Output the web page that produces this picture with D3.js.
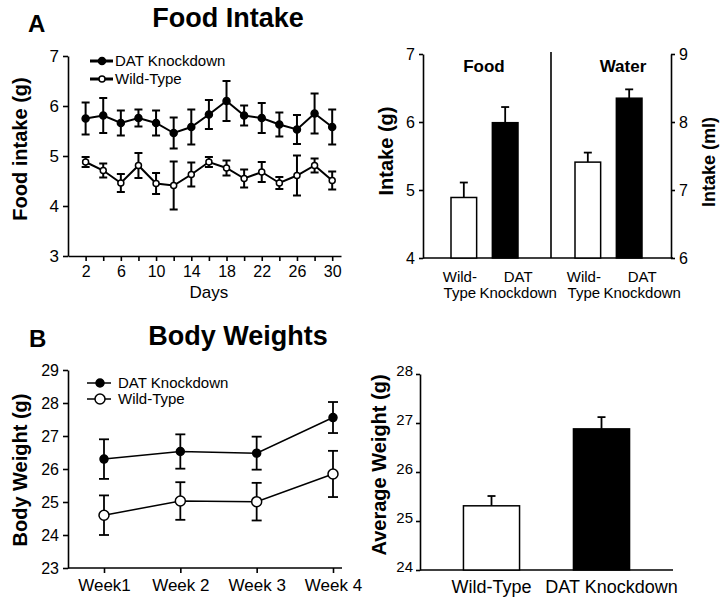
<!DOCTYPE html>
<html><head><meta charset="utf-8">
<script src="https://cdn.jsdelivr.net/npm/d3@7"></script>
<style>
body{margin:0;background:#fff;}
svg{font-family:"Liberation Sans",Arial,sans-serif;}
.axis path,.axis line{stroke:#000;stroke-width:1.6;}
.axis text{fill:#000;}
</style></head>
<body>
<svg id="chart" width="720" height="599"></svg>
<script>
// ---------- DATA ----------
const days = [2,4,6,8,10,12,14,16,18,20,22,24,26,28,30];
const dayTickLabels = [2,6,10,14,18,22,26,30];
const datIntake    = [5.75,5.81,5.66,5.76,5.66,5.46,5.58,5.83,6.10,5.81,5.76,5.63,5.53,5.85,5.58];
const datIntakeErr = [0.32,0.35,0.25,0.17,0.25,0.31,0.35,0.29,0.40,0.20,0.30,0.24,0.29,0.40,0.35];
const wtIntake     = [4.88,4.71,4.46,4.81,4.45,4.41,4.63,4.88,4.76,4.55,4.68,4.46,4.61,4.81,4.51];
const wtIntakeErr  = [0.10,0.14,0.18,0.25,0.21,0.48,0.24,0.10,0.15,0.18,0.20,0.12,0.40,0.14,0.18];
const intakeTicks  = [3,4,5,6,7];

const groups = ["Food","Water"];
const genotypes = ["Wild-Type","DAT Knockdown"];
const genotypeLabelLines = [["Wild-","Type"],["DAT","Knockdown"]];
const foodMeans = [4.89, 5.99];
const foodErr   = [0.22, 0.23];
const waterMeans = [7.41, 8.35];
const waterErr   = [0.14, 0.13];
const foodTicks = [4,5,6,7];
const waterTicks = [6,7,8,9];

const weeks = ["Week1","Week 2","Week 3","Week 4"];
const datWeight    = [26.30,26.53,26.48,27.56];
const datWeightErr = [0.60,0.52,0.50,0.47];
const wtWeight     = [24.60,25.03,25.01,25.85];
const wtWeightErr  = [0.60,0.57,0.57,0.70];
const weightTicks  = [23,24,25,26,27,28,29];

const avgWeight    = [25.31, 26.88];
const avgWeightErr = [0.20, 0.24];
const avgTicks     = [24,25,26,27,28];

// ---------- DRAW ----------
const svg = d3.select("#chart");
const fmt = d3.format("d");

function txt(x,y,s,size,weight,anchor){
  return svg.append("text").attr("x",x).attr("y",y).text(s)
    .attr("font-size",size).attr("font-weight",weight||"normal")
    .attr("text-anchor",anchor||"start").attr("fill","#000");
}
function rotLabel(x,y,s,size){
  return svg.append("text").attr("transform",`translate(${x},${y}) rotate(-90)`)
    .text(s).attr("font-size",size).attr("font-weight","bold")
    .attr("text-anchor","middle").attr("fill","#000");
}
function styleAxis(g,size){
  g.attr("class","axis");
  g.selectAll("text").attr("font-size",size).attr("font-family","Liberation Sans, Arial, sans-serif");
}

// ===== Panel A left: Food intake line =====
{
  const x = d3.scaleLinear().domain([0,31]).range([68,341]);
  const y = d3.scaleLinear().domain([3,7]).range([256,56]);
  txt(28,32,"A",24,"bold");
  txt(228,27,"Food Intake",27,"bold","middle");
  const ya = svg.append("g").attr("transform","translate(68,0)")
    .call(d3.axisLeft(y).tickValues(intakeTicks).tickFormat(fmt).tickSize(5).tickSizeOuter(0).tickPadding(4));
  styleAxis(ya,17);
  const xa = svg.append("g").attr("transform","translate(0,256)")
    .call(d3.axisBottom(x).tickValues(days).tickSize(5).tickSizeOuter(0).tickPadding(5)
      .tickFormat(d=>dayTickLabels.includes(d)?d:""));
  styleAxis(xa,16);
  txt(x(16),298,"Days",17,"normal","middle");
  rotLabel(27,149,"Food intake (g)",20);

  const series = [
    {v:datIntake,e:datIntakeErr,fill:"#000",r:3.5},
    {v:wtIntake,e:wtIntakeErr,fill:"#fff",r:3}
  ];
  series.forEach(s=>{
    const g = svg.append("g");
    days.forEach((d,i)=>{
      const cx=x(d), y1=y(s.v[i]-s.e[i]), y2=y(s.v[i]+s.e[i]);
      g.append("line").attr("x1",cx).attr("x2",cx).attr("y1",y1).attr("y2",y2).attr("stroke","#000").attr("stroke-width",2);
      [y1,y2].forEach(yy=>g.append("line").attr("x1",cx-4).attr("x2",cx+4).attr("y1",yy).attr("y2",yy).attr("stroke","#000").attr("stroke-width",2));
    });
    g.append("path").datum(days.map((d,i)=>[d,s.v[i]]))
      .attr("d",d3.line().x(d=>x(d[0])).y(d=>y(d[1])))
      .attr("fill","none").attr("stroke","#000").attr("stroke-width",2);
    g.selectAll("circle").data(days).join("circle")
      .attr("cx",d=>x(d)).attr("cy",(d,i)=>y(s.v[i])).attr("r",s.r)
      .attr("fill",s.fill).attr("stroke","#000").attr("stroke-width",1.5);
  });
  const leg = [{t:"DAT Knockdown",fill:"#000",r:3.5,y:61},{t:"Wild-Type",fill:"#fff",r:3,y:79}];
  leg.forEach(l=>{
    svg.append("line").attr("x1",90).attr("x2",113).attr("y1",l.y).attr("y2",l.y).attr("stroke","#000").attr("stroke-width",3);
    svg.append("circle").attr("cx",102).attr("cy",l.y).attr("r",l.r).attr("fill",l.fill).attr("stroke","#000").attr("stroke-width",1.5);
    txt(115,l.y+5,l.t,15);
  });
}

// ===== Panel A right: Food / Water bars =====
{
  const outer = d3.scaleBand().domain(groups).range([427,675]);
  const inner = d3.scaleBand().domain(genotypes).range([24,91]).paddingInner(0.38);
  const yF = d3.scaleLinear().domain([4,7]).range([258,54]);
  const yW = d3.scaleLinear().domain([6,9]).range([258,54]);
  const la = svg.append("g").attr("transform","translate(423,0)")
    .call(d3.axisLeft(yF).tickValues(foodTicks).tickFormat(fmt).tickSize(4).tickSizeOuter(0).tickPadding(4));
  styleAxis(la,16);
  const ra = svg.append("g").attr("transform","translate(671,0)")
    .call(d3.axisRight(yW).tickValues(waterTicks).tickFormat(fmt).tickSize(4).tickSizeOuter(0).tickPadding(4));
  styleAxis(ra,16);
  svg.append("line").attr("x1",423).attr("x2",673).attr("y1",258).attr("y2",258).attr("stroke","#000").attr("stroke-width",1.6);
  svg.append("line").attr("x1",outer("Water")).attr("x2",outer("Water")).attr("y1",52).attr("y2",258).attr("stroke","#000").attr("stroke-width",1.6);
  rotLabel(393,151,"Intake (g)",20);
  rotLabel(715,162,"Intake (ml)",18);

  const sets = [{g:"Food",m:foodMeans,e:foodErr,y:yF,dx:-5},{g:"Water",m:waterMeans,e:waterErr,y:yW,dx:10}];
  const labelShift = [-4,13];
  sets.forEach(s=>{
    txt(outer(s.g)+outer.bandwidth()/2 + s.dx,72,s.g,17,"bold","middle");
    genotypes.forEach((gt,i)=>{
      const bx = outer(s.g)+inner(gt), bw = inner.bandwidth();
      const top = s.y(s.m[i]), et = s.y(s.m[i]+s.e[i]), cx = bx+bw/2;
      svg.append("line").attr("x1",cx).attr("x2",cx).attr("y1",top).attr("y2",et).attr("stroke","#000").attr("stroke-width",1.8);
      svg.append("line").attr("x1",cx-4).attr("x2",cx+4).attr("y1",et).attr("y2",et).attr("stroke","#000").attr("stroke-width",1.8);
      svg.append("rect").attr("x",bx).attr("y",top).attr("width",bw).attr("height",s.y.range()[0]-top)
        .attr("fill",i===0?"#fff":"#000").attr("stroke","#000").attr("stroke-width",1.5);
      genotypeLabelLines[i].forEach((ln,k)=>txt(cx+labelShift[i],282+k*16,ln,15,"normal","middle"));
    });
  });
}

// ===== Panel B left: Body weights line =====
{
  const x = d3.scalePoint().domain(weeks).range([104,333]);
  const y = d3.scaleLinear().domain([23,29]).range([568,370]);
  txt(29,347,"B",24,"bold");
  txt(238,345,"Body Weights",27,"bold","middle");
  const ya = svg.append("g").attr("transform","translate(68,0)")
    .call(d3.axisLeft(y).tickValues(weightTicks).tickFormat(fmt).tickSize(5).tickSizeOuter(0).tickPadding(4));
  styleAxis(ya,16);
  const xa = svg.append("g").attr("transform","translate(0,568)")
    .call(d3.axisBottom(x).tickSize(5).tickSizeOuter(0).tickPadding(6));
  styleAxis(xa,17);
  xa.select(".domain").remove();
  svg.append("line").attr("x1",68).attr("x2",342).attr("y1",568).attr("y2",568).attr("stroke","#000").attr("stroke-width",1.6);
  rotLabel(27,470,"Body Weight (g)",20);

  const series = [
    {v:datWeight,e:datWeightErr,fill:"#000",r:4},
    {v:wtWeight,e:wtWeightErr,fill:"#fff",r:5}
  ];
  series.forEach(s=>{
    const g = svg.append("g");
    weeks.forEach((w,i)=>{
      const cx=x(w), y1=y(s.v[i]-s.e[i]), y2=y(s.v[i]+s.e[i]);
      g.append("line").attr("x1",cx).attr("x2",cx).attr("y1",y1).attr("y2",y2).attr("stroke","#000").attr("stroke-width",1.8);
      [y1,y2].forEach(yy=>g.append("line").attr("x1",cx-5).attr("x2",cx+5).attr("y1",yy).attr("y2",yy).attr("stroke","#000").attr("stroke-width",1.8));
    });
    g.append("path").datum(weeks.map((w,i)=>[w,s.v[i]]))
      .attr("d",d3.line().x(d=>x(d[0])).y(d=>y(d[1])))
      .attr("fill","none").attr("stroke","#000").attr("stroke-width",1.5);
    g.selectAll("circle").data(weeks).join("circle")
      .attr("cx",d=>x(d)).attr("cy",(d,i)=>y(s.v[i])).attr("r",s.r)
      .attr("fill",s.fill).attr("stroke","#000").attr("stroke-width",1.5);
  });
  const leg = [{t:"DAT Knockdown",fill:"#000",r:4,y:383},{t:"Wild-Type",fill:"#fff",r:5,y:399}];
  leg.forEach(l=>{
    svg.append("line").attr("x1",87).attr("x2",111).attr("y1",l.y).attr("y2",l.y).attr("stroke","#000").attr("stroke-width",1.5);
    svg.append("circle").attr("cx",100).attr("cy",l.y).attr("r",l.r).attr("fill",l.fill).attr("stroke","#000").attr("stroke-width",1.5);
    txt(118,l.y+5,l.t,15);
  });
}

// ===== Panel B right: Average weight bars =====
{
  const x = d3.scaleBand().domain(genotypes).range([420,673]).paddingInner(0.49).paddingOuter(0.395);
  const y = d3.scaleLinear().domain([24,28]).range([570,374]);
  const ya = svg.append("g").attr("transform","translate(420,0)")
    .call(d3.axisLeft(y).tickValues(avgTicks).tickFormat(fmt).tickSize(4).tickSizeOuter(0).tickPadding(3));
  styleAxis(ya,15);
  ya.selectAll(".tick text").attr("dy","0.1em");
  svg.append("line").attr("x1",420).attr("x2",673).attr("y1",570).attr("y2",570).attr("stroke","#000").attr("stroke-width",1.6);
  rotLabel(386,465,"Average Weight (g)",20);
  const labelShiftB = [0,10];
  genotypes.forEach((gt,i)=>{
    const bx=x(gt), bw=x.bandwidth(), cx=bx+bw/2;
    const top=y(avgWeight[i]), et=y(avgWeight[i]+avgWeightErr[i]);
    svg.append("line").attr("x1",cx).attr("x2",cx).attr("y1",top).attr("y2",et).attr("stroke","#000").attr("stroke-width",1.8);
    svg.append("line").attr("x1",cx-4).attr("x2",cx+4).attr("y1",et).attr("y2",et).attr("stroke","#000").attr("stroke-width",1.8);
    svg.append("rect").attr("x",bx).attr("y",top).attr("width",bw).attr("height",570-top)
      .attr("fill",i===0?"#fff":"#000").attr("stroke","#000").attr("stroke-width",1.5);
    txt(cx+labelShiftB[i],593,gt,18,"normal","middle");
  });
}
</script>
</body></html>
